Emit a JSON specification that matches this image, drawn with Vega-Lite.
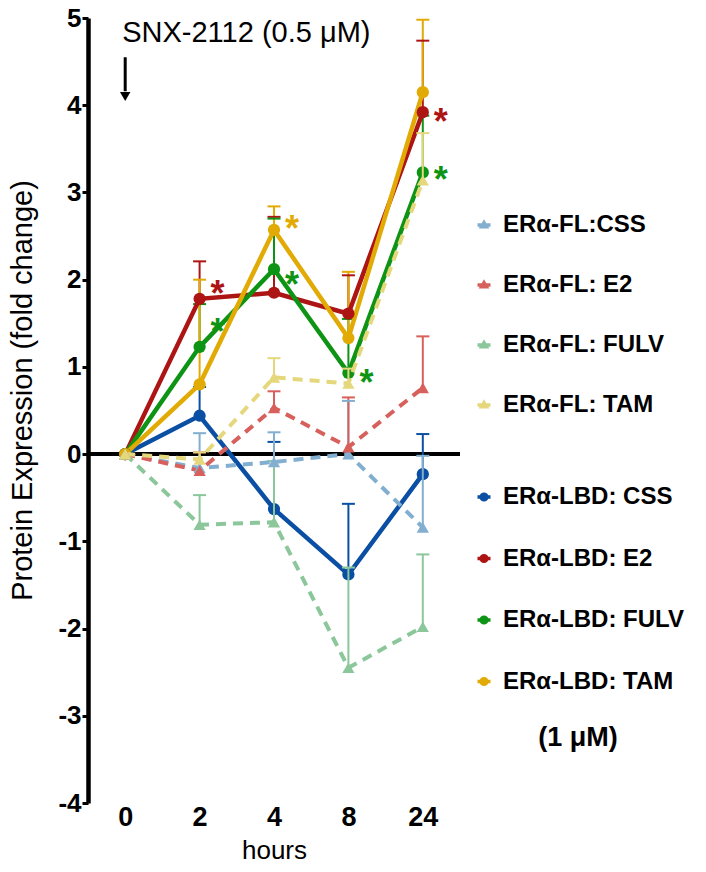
{
  "$schema": "https://vega.github.io/schema/vega-lite/v6.json",
  "width": 372,
  "height": 785,
  "autosize": {"type": "none"},
  "padding": {"left": 88, "top": 18, "right": 246, "bottom": 69},
  "config": {
    "view": {"stroke": null},
    "font": "Liberation Sans",
    "axisY": {"domainWidth": 4.5, "domainColor": "black", "tickWidth": 3, "tickSize": 6, "tickColor": "black", "labelFontSize": 26, "labelFontWeight": "bold", "labelColor": "black", "labelPadding": 1, "grid": false, "titleFontSize": 29, "titleFontWeight": "normal", "titleColor": "black", "titlePadding": 20, "titleY": 372},
    "axisX": {"domain": false, "ticks": false, "grid": false, "labelFontSize": 27, "labelFontWeight": "bold", "labelColor": "black", "labelAngle": 0, "labelPadding": 1, "titleFontSize": 26, "titleFontWeight": "normal", "titleColor": "black", "titlePadding": 7}
  },
  "datasets": {
    "fl": [
      {"series": "ERα-FL:CSS", "hours": 0, "value": 0},
      {"series": "ERα-FL:CSS", "hours": 2, "value": -0.16, "upper": 0.24},
      {"series": "ERα-FL:CSS", "hours": 4, "value": -0.09, "upper": 0.25},
      {"series": "ERα-FL:CSS", "hours": 8, "value": 0.0, "upper": 0.61},
      {"series": "ERα-FL:CSS", "hours": 24, "value": -0.84, "upper": -0.02},
      {"series": "ERα-FL: E2", "hours": 0, "value": 0},
      {"series": "ERα-FL: E2", "hours": 2, "value": -0.19, "upper": 0.02},
      {"series": "ERα-FL: E2", "hours": 4, "value": 0.53, "upper": 0.72},
      {"series": "ERα-FL: E2", "hours": 8, "value": 0.08, "upper": 0.65},
      {"series": "ERα-FL: E2", "hours": 24, "value": 0.76, "upper": 1.35},
      {"series": "ERα-FL: FULV", "hours": 0, "value": 0},
      {"series": "ERα-FL: FULV", "hours": 2, "value": -0.81, "upper": -0.47},
      {"series": "ERα-FL: FULV", "hours": 4, "value": -0.78, "upper": -0.08},
      {"series": "ERα-FL: FULV", "hours": 8, "value": -2.45, "upper": -1.3},
      {"series": "ERα-FL: FULV", "hours": 24, "value": -1.98, "upper": -1.15},
      {"series": "ERα-FL: TAM", "hours": 0, "value": 0},
      {"series": "ERα-FL: TAM", "hours": 2, "value": -0.06, "upper": 0.02},
      {"series": "ERα-FL: TAM", "hours": 4, "value": 0.88, "upper": 1.1},
      {"series": "ERα-FL: TAM", "hours": 8, "value": 0.81, "upper": 0.98},
      {"series": "ERα-FL: TAM", "hours": 24, "value": 3.14, "upper": 3.68}
    ],
    "lbd": [
      {"series": "ERα-LBD: CSS", "hours": 0, "value": 0},
      {"series": "ERα-LBD: CSS", "hours": 2, "value": 0.44, "upper": 0.77},
      {"series": "ERα-LBD: CSS", "hours": 4, "value": -0.63, "upper": 0.14},
      {"series": "ERα-LBD: CSS", "hours": 8, "value": -1.38, "upper": -0.57},
      {"series": "ERα-LBD: CSS", "hours": 24, "value": -0.23, "upper": 0.23},
      {"series": "ERα-LBD: E2", "hours": 0, "value": 0},
      {"series": "ERα-LBD: E2", "hours": 2, "value": 1.78, "upper": 2.21},
      {"series": "ERα-LBD: E2", "hours": 4, "value": 1.85, "upper": 2.72},
      {"series": "ERα-LBD: E2", "hours": 8, "value": 1.61, "upper": 2.05},
      {"series": "ERα-LBD: E2", "hours": 24, "value": 3.92, "upper": 4.74},
      {"series": "ERα-LBD: FULV", "hours": 0, "value": 0},
      {"series": "ERα-LBD: FULV", "hours": 2, "value": 1.23, "upper": 1.72},
      {"series": "ERα-LBD: FULV", "hours": 4, "value": 2.12, "upper": 2.7},
      {"series": "ERα-LBD: FULV", "hours": 8, "value": 0.93, "upper": 1.55},
      {"series": "ERα-LBD: FULV", "hours": 24, "value": 3.23, "upper": 3.88},
      {"series": "ERα-LBD: TAM", "hours": 0, "value": 0},
      {"series": "ERα-LBD: TAM", "hours": 2, "value": 0.8, "upper": 2.0},
      {"series": "ERα-LBD: TAM", "hours": 4, "value": 2.57, "upper": 2.84},
      {"series": "ERα-LBD: TAM", "hours": 8, "value": 1.33, "upper": 2.09},
      {"series": "ERα-LBD: TAM", "hours": 24, "value": 4.15, "upper": 4.98}
    ],
    "stars": [
      {"series": "ERα-LBD: E2", "hours": 2, "value": 1.94},
      {"series": "ERα-LBD: FULV", "hours": 2, "value": 1.5},
      {"series": "ERα-LBD: TAM", "hours": 4, "value": 2.68},
      {"series": "ERα-LBD: FULV", "hours": 4, "value": 2.04},
      {"series": "ERα-LBD: FULV", "hours": 8, "value": 0.92},
      {"series": "ERα-LBD: E2", "hours": 24, "value": 3.91},
      {"series": "ERα-LBD: FULV", "hours": 24, "value": 3.25}
    ]
  },
  "layer": [
    {
      "data": {"values": [{}]},
      "mark": {"type": "rule", "strokeWidth": 4, "color": "black"},
      "encoding": {"y": {"datum": 0, "type": "quantitative", "title": "Protein Expression (fold change)", "scale": {"domain": [-4, 5], "nice": false, "zero": false}, "axis": {"values": [-4, -3, -2, -1, 0, 1, 2, 3, 4, 5], "labelExpr": "datum.value < 0 ? '-' + abs(datum.value) : '' + datum.value"}}}
    },
    {
      "data": {"values": [{"label": "SNX-2112 (0.5 μM)"}]},
      "mark": {"type": "text", "align": "left", "baseline": "alphabetic", "fontSize": 29, "dx": -3, "color": "black"},
      "encoding": {
        "x": {"datum": 0, "type": "ordinal", "scale": {"type": "point", "domain": [0, 2, 4, 8, 24], "padding": 0.5}, "title": "hours"},
        "y": {"datum": 4.72, "type": "quantitative", "title": "Protein Expression (fold change)"},
        "text": {"field": "label"}
      }
    },
    {
      "data": {"values": [{}]},
      "mark": {"type": "rule", "strokeWidth": 3, "color": "black"},
      "encoding": {
        "x": {"datum": 0, "type": "ordinal", "title": "hours"},
        "y": {"datum": 4.55, "type": "quantitative", "title": "Protein Expression (fold change)"},
        "y2": {"datum": 4.16}
      }
    },
    {
      "data": {"values": [{}]},
      "mark": {"type": "point", "shape": "triangle-down", "filled": true, "size": 110, "color": "black", "opacity": 1},
      "encoding": {
        "x": {"datum": 0, "type": "ordinal", "title": "hours"},
        "y": {"datum": 4.1, "type": "quantitative", "title": "Protein Expression (fold change)"}
      }
    },
    {
      "data": {"name": "lbd"},
      "transform": [{"filter": "isValid(datum.upper)"}],
      "mark": {"type": "rule", "strokeWidth": 2},
      "encoding": {
        "x": {"field": "hours", "type": "ordinal", "title": "hours"},
        "y": {"field": "value", "type": "quantitative", "title": "Protein Expression (fold change)"},
        "y2": {"field": "upper"},
        "stroke": {"field": "series", "type": "nominal"}
      }
    },
    {
      "data": {"name": "lbd"},
      "transform": [{"filter": "isValid(datum.upper)"}],
      "mark": {"type": "rule", "strokeWidth": 2, "xOffset": -6.5, "x2Offset": 6.5},
      "encoding": {
        "x": {"field": "hours", "type": "ordinal", "title": "hours"},
        "x2": {"field": "hours"},
        "y": {"field": "upper", "type": "quantitative", "title": "Protein Expression (fold change)"},
        "stroke": {"field": "series", "type": "nominal"}
      }
    },
    {
      "data": {"name": "lbd"},
      "mark": {"type": "line", "strokeWidth": 4.5},
      "encoding": {
        "x": {"field": "hours", "type": "ordinal", "title": "hours"},
        "y": {"field": "value", "type": "quantitative", "title": "Protein Expression (fold change)"},
        "stroke": {
          "field": "series", "type": "nominal",
          "scale": {"domain": ["ERα-LBD: CSS", "ERα-LBD: E2", "ERα-LBD: FULV", "ERα-LBD: TAM"], "range": ["#0a4fa3", "#ad1414", "#0e9414", "#e2aa04"]},
          "legend": {
            "orient": "none", "legendX": 384, "legendY": 467, "padding": 0,
            "title": "(1 μM)", "titleOrient": "bottom", "titleAnchor": "middle", "titleFontSize": 27, "titleFontWeight": "bold", "titleColor": "black", "titlePadding": 31,
            "symbolType": "M-1,-0.04H1V0.04H-1Z M-0.62,0A0.62,0.62 0 1,0 0.62,0A0.62,0.62 0 1,0 -0.62,0Z",
            "symbolSize": 100, "symbolStrokeWidth": 3, "symbolOpacity": 1,
            "labelFontSize": 24, "labelFontWeight": "bold", "labelColor": "black", "labelOffset": 7, "labelLimit": 300, "rowPadding": 37.5
          }
        }
      }
    },
    {
      "data": {"name": "lbd"},
      "mark": {"type": "point", "shape": "circle", "filled": true, "size": 150, "opacity": 1, "strokeWidth": 0},
      "encoding": {
        "x": {"field": "hours", "type": "ordinal", "title": "hours"},
        "y": {"field": "value", "type": "quantitative", "title": "Protein Expression (fold change)"},
        "fill": {"field": "series", "type": "nominal", "scale": {"domain": ["ERα-LBD: CSS", "ERα-LBD: E2", "ERα-LBD: FULV", "ERα-LBD: TAM"], "range": ["#0a4fa3", "#ad1414", "#0e9414", "#e2aa04"]}, "legend": null}
      }
    },
    {
      "data": {"name": "fl"},
      "transform": [{"filter": "isValid(datum.upper)"}],
      "mark": {"type": "rule", "strokeWidth": 2},
      "encoding": {
        "x": {"field": "hours", "type": "ordinal", "title": "hours"},
        "y": {"field": "value", "type": "quantitative", "title": "Protein Expression (fold change)"},
        "y2": {"field": "upper"},
        "color": {"field": "series", "type": "nominal"}
      }
    },
    {
      "data": {"name": "fl"},
      "transform": [{"filter": "isValid(datum.upper)"}],
      "mark": {"type": "rule", "strokeWidth": 2, "xOffset": -6.5, "x2Offset": 6.5},
      "encoding": {
        "x": {"field": "hours", "type": "ordinal", "title": "hours"},
        "x2": {"field": "hours"},
        "y": {"field": "upper", "type": "quantitative", "title": "Protein Expression (fold change)"},
        "color": {"field": "series", "type": "nominal"}
      }
    },
    {
      "data": {"name": "fl"},
      "mark": {"type": "line", "strokeWidth": 4, "strokeDash": [10, 7]},
      "encoding": {
        "x": {"field": "hours", "type": "ordinal", "title": "hours"},
        "y": {"field": "value", "type": "quantitative", "title": "Protein Expression (fold change)"},
        "color": {
          "field": "series", "type": "nominal",
          "scale": {"domain": ["ERα-FL:CSS", "ERα-FL: E2", "ERα-FL: FULV", "ERα-FL: TAM"], "range": ["#82aed0", "#d8605c", "#8cc79b", "#e5d87c"]},
          "legend": {
            "orient": "none", "legendX": 384, "legendY": 195, "padding": 0, "title": null,
            "symbolType": "M-1,-0.04H1V0.04H-1Z M-0.55,0.42L0,-0.55L0.55,0.42Z",
            "symbolSize": 100, "symbolStrokeWidth": 3, "symbolOpacity": 1, "symbolDash": [],
            "labelFontSize": 24, "labelFontWeight": "bold", "labelColor": "black", "labelOffset": 7, "labelLimit": 300, "rowPadding": 36
          }
        }
      }
    },
    {
      "data": {"name": "fl"},
      "mark": {"type": "point", "shape": "triangle-up", "filled": true, "size": 150, "opacity": 1, "strokeWidth": 0},
      "encoding": {
        "x": {"field": "hours", "type": "ordinal", "title": "hours"},
        "y": {"field": "value", "type": "quantitative", "title": "Protein Expression (fold change)"},
        "color": {"field": "series", "type": "nominal"}
      }
    },
    {
      "data": {"name": "stars"},
      "mark": {"type": "text", "text": "*", "fontSize": 36, "fontWeight": "bold", "baseline": "middle", "align": "center", "dx": 18, "dy": 10},
      "encoding": {
        "x": {"field": "hours", "type": "ordinal", "title": "hours"},
        "y": {"field": "value", "type": "quantitative", "title": "Protein Expression (fold change)"},
        "fill": {"field": "series", "type": "nominal", "legend": null}
      }
    }
  ]
}
